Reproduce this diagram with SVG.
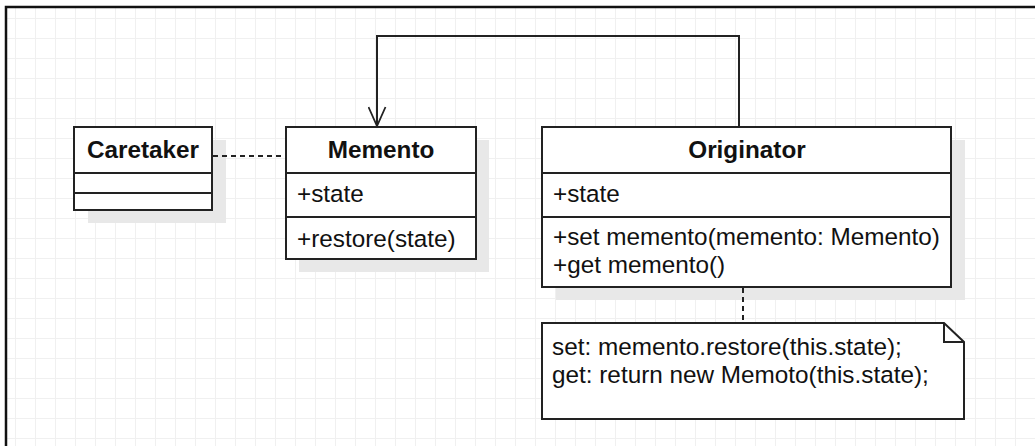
<svg xmlns="http://www.w3.org/2000/svg" width="1035" height="446" viewBox="0 0 1035 446">
<defs>
<pattern id="grid" x="15" y="18" width="20" height="20" patternUnits="userSpaceOnUse">
<path d="M0.5 0 V20 M0 0.5 H20" fill="none" stroke="#f0f0f0" stroke-width="1"/>
</pattern>
<marker id="open" markerWidth="20" markerHeight="24" refX="9" refY="20" orient="0" markerUnits="userSpaceOnUse">
<path d="M0.5 1 L9 20 L17.5 1" fill="none" stroke="#222" stroke-width="1.8"/>
</marker>
<style>
.box{fill:#fff;stroke:#222;stroke-width:2}
.shadow{fill:#e8e8e8}
.div{stroke:#222;stroke-width:2}
.t{font-family:"Liberation Sans",Arial,sans-serif;font-size:24.3px;fill:#111}
.b{font-weight:bold;text-anchor:middle}
.conn{fill:none;stroke:#222;stroke-width:2}
.dash{stroke-dasharray:5 4}
</style>
</defs>
<rect x="0" y="0" width="1035" height="446" fill="#fff"/>
<rect x="6" y="7" width="1035" height="446" fill="url(#grid)"/>
<rect x="6" y="7" width="1100" height="500" fill="none" stroke="#111" stroke-width="2.5"/>

<g id="caretaker">
<rect class="shadow" x="88" y="140" width="138" height="83"/>
<rect class="box" x="74" y="127" width="138" height="83"/>
<line class="div" x1="74" y1="173" x2="212" y2="173"/>
<line class="div" x1="74" y1="193" x2="212" y2="193"/>
<text class="t b" x="143" y="158">Caretaker</text>
</g>

<g id="memento">
<rect class="shadow" x="299" y="140" width="190" height="132"/>
<rect class="box" x="286" y="127" width="190" height="132"/>
<line class="div" x1="286" y1="173" x2="476" y2="173"/>
<line class="div" x1="286" y1="217" x2="476" y2="217"/>
<text class="t b" x="381" y="158">Memento</text>
<text class="t" x="297" y="202">+state</text>
<text class="t" x="297" y="247">+restore(state)</text>
</g>

<g id="originator">
<rect class="shadow" x="556" y="140" width="409" height="160"/>
<rect class="box" x="542" y="127" width="409" height="160"/>
<line class="div" x1="542" y1="173" x2="951" y2="173"/>
<line class="div" x1="542" y1="217" x2="951" y2="217"/>
<text class="t b" x="747" y="158">Originator</text>
<text class="t" x="553" y="202">+state</text>
<text class="t" x="553" y="245">+set memento(memento: Memento)</text>
<text class="t" x="553" y="273">+get memento()</text>
</g>

<g id="note">
<path class="box" d="M542 323 H944 L964 342 V419 H542 Z"/>
<path d="M944 323 V342 H964" fill="none" stroke="#222" stroke-width="2"/>
<text class="t" x="552" y="355">set: memento.restore(this.state);</text>
<text class="t" x="552" y="383">get: return new Memoto(this.state);</text>
</g>

<g id="connectors">
<path class="conn" d="M739 126 V36 H377 V126" marker-end="url(#open)"/>
<path class="conn dash" d="M213 156 H285"/>
<path class="conn dash" d="M743 288 V322"/>
</g>
</svg>
